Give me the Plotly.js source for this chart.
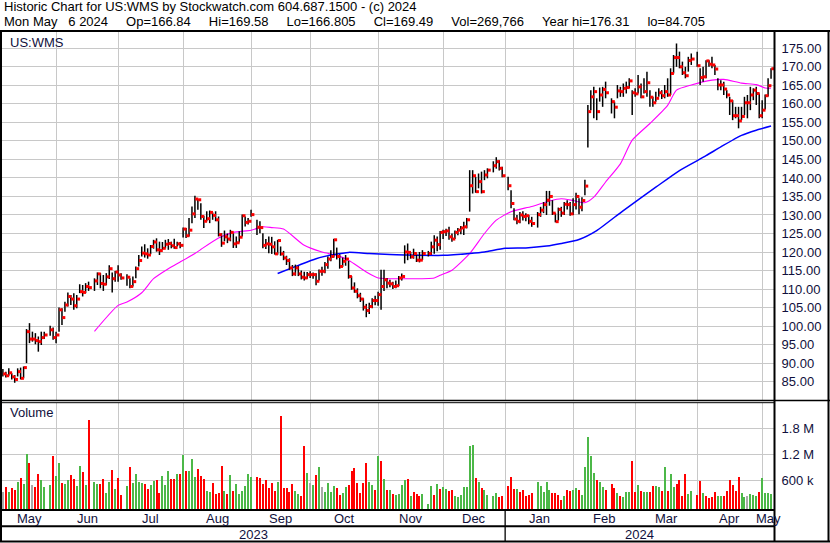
<!DOCTYPE html>
<html><head><meta charset="utf-8">
<script src="https://cdn.plot.ly/plotly-3.0.1.min.js"></script>
<style>html,body{margin:0;padding:0;background:#fff;}#chart{width:830px;height:543px;}</style>
</head><body><div id="chart"></div>
<script>
// ---- data (one entry per weekday from Mon May 8 2023 to Mon May 6 2024; null = market holiday)
const closes = [
87.1,86.6,87.4,86.3,85.6,87.7,85.9,88.8,98.5,96.5,
96.5,96.1,95.8,96.9,97.6,null,99.0,96.9,97.6,104.4,
102.3,105.7,108.0,107.3,105.5,107.3,109.3,109.1,110.7,110.4,
null,112.2,114.1,111.5,111.3,113.3,115.5,112.8,114.6,113.8,
113.0,null,113.2,110.7,112.0,115.5,117.7,119.7,119.5,119.2,
121.5,122.7,120.6,120.4,121.0,122.1,122.3,121.7,121.2,122.2,
121.8,126.2,124.4,125.9,130.3,134.3,134.1,129.6,128.3,129.0,
130.7,129.9,128.7,124.7,122.4,124.1,123.5,125.3,122.2,122.5,
124.0,129.8,128.0,128.3,130.1,null,126.7,126.6,121.8,122.2,
122.1,121.4,119.5,123.1,119.5,118.4,117.7,115.7,114.1,115.7,
114.1,113.2,113.0,113.9,113.9,113.9,112.1,114.8,114.8,116.6,
118.1,118.8,123.3,118.8,116.1,117.5,118.1,113.4,110.3,109.4,
108.2,107.3,105.1,104.2,105.3,106.9,106.9,108.5,110.7,112.5,
111.6,111.4,110.7,110.9,113.0,113.4,120.0,119.9,118.7,119.6,
117.8,117.8,119.6,null,119.6,121.4,123.2,122.0,125.3,125.5,
125.7,124.1,123.5,125.3,125.9,126.5,126.8,128.7,137.9,140.6,
136.3,139.0,136.3,140.8,142.1,null,143.3,144.4,142.6,140.6,
null,137.9,133.1,128.9,128.3,130.0,129.6,129.8,128.3,127.7,
null,130.1,131.3,132.8,134.0,135.0,130.5,128.2,131.5,130.5,
132.9,132.8,130.3,132.8,135.0,132.1,133.9,137.8,157.9,161.9,
163.3,157.9,162.4,163.9,163.0,null,160.6,159.1,163.5,163.3,
164.2,164.4,166.2,163.0,162.7,164.6,161.9,163.3,165.7,161.8,
160.3,161.5,163.0,162.2,163.3,162.4,168.2,172.5,172.5,170.0,
168.4,167.6,171.7,172.1,null,170.3,167.1,167.3,171.6,170.7,
170.5,169.4,165.1,165.1,164.0,162.4,160.8,156.8,156.8,155.4,
156.6,160.3,160.3,162.4,163.7,162.8,156.8,158.3,162.2,164.9,
169.49];
const highs = [
88.4,87.7,88.6,87.3,86.8,88.6,88.8,89.1,99.2,100.8,
98.5,98.1,97.2,98.5,98.5,null,100.1,99.6,98.5,105.0,
104.8,106.6,109.1,108.4,108.9,108.4,111.3,111.1,111.6,112.0,
null,112.9,114.5,114.3,113.8,114.3,116.4,114.5,114.9,116.4,
114.3,null,114.0,112.9,113.4,116.1,119.2,121.5,122.1,121.0,
121.9,123.3,123.7,122.8,122.7,123.3,123.5,122.8,123.6,122.8,
122.7,126.6,126.5,129.2,132.3,135.2,134.3,133.2,129.8,131.0,
131.2,130.7,131.0,129.6,125.1,125.8,125.0,126.0,125.1,124.2,
125.6,130.1,129.6,129.2,131.4,null,128.7,128.3,125.1,123.5,
124.2,124.1,122.9,123.3,121.5,120.3,119.0,118.3,116.5,116.6,
116.3,115.0,114.7,114.6,114.8,114.5,114.3,115.3,116.0,117.3,
118.8,120.5,123.6,121.2,119.4,118.5,119.2,117.6,113.5,111.8,
110.2,109.0,107.5,106.0,106.3,107.5,108.2,109.3,115.2,115.2,
113.0,112.5,112.0,112.3,113.5,114.2,121.8,122.3,120.0,120.9,
119.6,120.0,120.5,null,120.3,122.8,124.5,124.2,125.7,126.0,
126.3,126.8,125.0,125.8,126.5,127.0,128.2,129.2,142.1,142.1,
140.3,141.2,141.7,142.1,142.6,null,144.5,145.6,144.8,143.0,
null,140.3,136.7,131.8,130.0,130.8,131.0,130.5,130.0,129.5,
null,130.8,132.2,133.5,136.5,136.5,134.0,130.5,132.0,132.2,
133.5,134.0,133.5,134.5,136.0,134.5,134.8,139.5,159.7,163.7,
164.6,161.5,164.4,164.6,166.0,null,161.5,160.6,165.1,164.6,
165.5,166.0,166.9,163.7,164.2,167.8,165.5,166.9,168.7,163.7,
161.9,163.3,164.2,163.7,165.1,166.9,169.6,173.2,176.3,174.1,
171.4,170.0,172.7,173.6,null,174.1,169.6,170.0,171.8,171.8,
172.7,170.5,166.9,166.4,166.0,163.7,161.9,161.0,159.2,159.2,
159.2,161.9,162.4,164.6,164.2,164.6,162.8,161.0,162.5,166.9,
169.58];
const lows = [
86.4,86.1,86.6,85.6,84.7,86.4,85.6,85.9,90.0,95.4,
95.8,95.1,93.1,94.9,96.5,null,97.4,96.3,95.4,98.5,
100.3,103.9,105.3,105.7,104.4,104.8,108.9,108.0,108.9,109.5,
null,109.5,111.1,110.2,109.5,111.1,112.7,109.1,112.0,112.0,
112.5,null,110.9,110.2,110.7,112.9,116.1,118.8,118.5,118.2,
119.4,120.9,120.1,119.2,120.6,121.0,120.6,121.0,120.9,121.5,
121.0,123.9,123.8,124.2,127.8,129.2,131.4,128.7,126.5,128.3,
127.8,128.7,128.3,124.2,121.4,122.9,122.4,122.9,121.1,121.1,
122.6,124.2,126.9,127.4,129.5,null,124.6,125.1,121.0,120.8,
119.7,119.5,119.3,119.3,119.0,117.8,116.5,115.2,113.5,113.6,
113.5,112.6,112.3,112.8,113.0,112.8,111.0,112.3,113.6,114.3,
115.5,117.5,118.5,118.0,115.5,116.0,116.3,112.8,109.8,109.0,
107.5,106.5,104.2,102.4,103.3,104.8,105.6,105.5,104.4,109.5,
110.2,110.5,110.0,110.2,110.8,112.3,116.9,117.8,118.2,118.2,
117.3,117.2,117.8,null,118.8,119.2,119.5,120.2,120.6,123.5,
124.3,123.3,122.8,123.5,124.5,124.8,124.6,126.4,130.9,135.8,
136.0,137.2,135.8,139.4,139.9,null,141.5,142.5,142.0,140.2,
null,136.7,131.8,128.6,127.5,127.8,128.5,128.3,127.5,126.8,
null,126.6,129.5,130.5,130.0,132.5,130.0,128.0,128.5,129.5,
130.0,131.5,129.8,130.0,131.5,130.2,131.0,135.3,148.2,158.3,
156.1,155.6,160.6,159.2,161.5,null,157.4,156.1,161.5,161.9,
161.9,162.8,164.2,157.0,161.9,162.8,161.5,162.8,161.9,159.2,
159.2,160.6,161.9,161.3,161.5,161.9,162.4,168.2,170.0,169.6,
167.8,166.9,168.7,170.5,null,170.0,165.1,166.0,166.9,170.0,
169.6,167.8,163.7,163.7,162.4,161.5,157.0,155.6,156.1,153.4,
155.6,157.0,156.1,158.3,161.0,159.7,156.1,156.1,158.5,162.0,
166.805];
// volume in thousands of shares
const volumes = [
313,445,329,414,368,553,646,507,1204,995,
484,437,739,600,445,null,484,1157,693,995,
538,507,600,716,623,461,925,786,484,1994,
null,553,507,507,623,298,553,832,391,646,
252,null,461,902,530,739,553,530,507,391,
484,577,600,298,693,484,809,623,623,739,
739,1181,809,809,1088,670,855,693,623,345,
321,530,275,298,925,345,275,716,345,507,
275,345,461,739,670,null,670,646,507,600,
414,538,345,553,2087,414,414,321,507,345,
275,228,1390,763,530,484,716,902,437,321,
530,321,461,414,252,298,437,484,809,879,
530,298,530,995,553,484,368,1157,1041,623,
368,368,275,252,275,484,600,623,228,321,
275,228,275,null,43,461,252,507,391,437,
391,345,368,228,205,252,437,437,1390,1413,
646,553,414,368,252,null,228,298,205,228,
null,461,670,391,391,321,368,228,252,290,
null,553,461,321,553,368,298,298,252,135,
228,368,345,368,414,368,252,902,1599,1157,
763,600,553,437,368,null,507,414,298,228,
205,321,321,1041,321,484,345,321,321,321,
461,461,437,345,902,345,739,437,507,600,
228,739,275,345,null,252,577,298,228,182,
205,321,228,228,228,345,600,484,345,670,
298,205,228,275,252,228,321,646,298,298,
270];
// g = close up, r = close down, n = unchanged, - = holiday
const volumeChange = (
"nrgrrgrggr"+"nrrgg-grgg"+"rggrrggrgr"+"-ggrrggrgr"+"r-grggggrr"+
"ggrrgggrrg"+"rgrgggrrrg"+"grrrrgrgrg"+"ggggg-rrrr"+"rrrgrrrrrg"+
"grrgngrgng"+"gggrrggrrr"+"rrrrggrgrg"+"rgrggggrgr"+"rrg-ggrgrg"+
"grrggggggg"+"rgrgg-ggrr"+"-rrrgrrrrr"+"-gggggrrrr"+"grrggrgggg"+
"grggr-rrgr"+"gggrrgrggr"+"rggrgrggrr"+"rrgg-rrgrr"+"rrggrrrrrr"+
"ggngggrggg"+"g").split('');
// moving averages
const maShortDay = [31,39,42,47,51,56,60,65,67,73,78,84,88,91,95,102,108,113,117,123,127,136,146,148,152,158,163,167,172,179,185,189,193,197,200,204,209,213,219,225,228,233,240,244,250,255,258,260];
const maShortValue = [98.6,105.6,106.5,109.0,112.8,115.5,117.3,119.6,120.7,123.8,125.3,125.9,126.8,126.6,126.2,121.8,120.0,119.1,117.8,114.6,113.0,112.8,113.0,113.7,115.1,119.6,125.0,128.6,130.9,132.3,133.8,134.4,133.9,133.3,134.8,138.9,143.8,150.2,154.7,159.6,163.7,165.1,166.4,166.6,165.6,165.2,164.3,164.2];
const maLongDay = [93,100,106,112,117,124,131,136,149,158,163,170,177,184,189,195,201,210,221,229,238,243,250,255,260];
const maLongValue = [114.2,116.4,118.2,119.3,119.9,119.6,119.3,119.2,119.1,119.6,120.0,121.0,121.1,121.6,122.3,123.4,125.8,131.2,137.5,142.0,146.0,148.4,151.5,152.9,154.0];
// axes
const monthStartDay = [18,39,61,84,104,127,149,170,193,214,235,257];
const monthLabels = ['May','Jun','Jul','Aug','Sep','Oct','Nov','Dec','Jan','Feb','Mar','Apr','May'];
const yearLabels = ['2023','2024'];
const yearStartDay = 170;
const priceTicks = [85,90,95,100,105,110,115,120,125,130,135,140,145,150,155,160,165,170,175];
const volumeTicks = [600000,1200000,1800000];
const volumeTickText = ['600 k','1.2 M','1.8 M'];
const headerLine1 = 'Historic Chart for US:WMS by Stockwatch.com 604.687.1500 - (c) 2024';
const headerLine2 = 'Mon May   6 2024     Op=166.84     Hi=169.58     Lo=166.805     Cl=169.49     Vol=269,766     Year hi=176.31     lo=84.705';

// ---- build
const W = 830, H = 543;
const px = v => v / W, py = v => 1 - v / H;
const xMin = -0.3, xMax = 261;
const volFloor = -73; // thousands at panel bottom
const navy = '#10103c';
const FONT = 'Liberation Sans, Arial, sans-serif';
const keepSpaces = s => s.replace(/ {2,}/g, m => '\u00a0'.repeat(m.length));

const days = closes.map((_, i) => i);
const wickX = [], wickY = [], closeX = [], closeY = [];
days.forEach(i => {
  if (closes[i] === null) return;
  wickX.push(i, i, null); wickY.push(lows[i], highs[i], null);
  closeX.push(i + 0.62); closeY.push(closes[i]);
});
const colMap = {g: '#4cb848', r: '#ff0000', n: '#a9a9a9'};
const vX = [], vY = [], vC = [];
days.forEach(i => {
  if (volumes[i] === null) return;
  vX.push(i); vY.push((volumes[i] - volFloor) * 1000); vC.push(colMap[volumeChange[i]] || '#a9a9a9');
});

const traces = [
  {type: 'scatter', mode: 'lines', x: maShortDay, y: maShortValue, line: {color: '#ff00ff', width: 1.1, shape: 'spline', smoothing: 0.6}, xaxis: 'x', yaxis: 'y', hoverinfo: 'skip'},
  {type: 'scatter', mode: 'lines', x: maLongDay, y: maLongValue, line: {color: '#0000ff', width: 1.5, shape: 'spline', smoothing: 0.6}, xaxis: 'x', yaxis: 'y', hoverinfo: 'skip'},
  {type: 'scatter', mode: 'lines', x: wickX, y: wickY, line: {color: '#000', width: 1.5}, xaxis: 'x', yaxis: 'y', hoverinfo: 'skip'},
  {type: 'scatter', mode: 'markers', x: closeX, y: closeY, marker: {symbol: 'square', size: 3, color: '#ff0000', line: {width: 0}}, xaxis: 'x', yaxis: 'y', hoverinfo: 'skip'},
  {type: 'bar', x: vX, y: vY, base: volFloor * 1000, width: 0.68, marker: {color: vC, line: {width: 0}}, xaxis: 'x2', yaxis: 'y2', hoverinfo: 'skip'}
];

const bounds = [xMin].concat(monthStartDay, [xMax]);
const monthMid = monthLabels.map((_, k) => (bounds[k] + bounds[k + 1]) / 2);
const yearMid = [(xMin + yearStartDay) / 2, (yearStartDay + xMax) / 2];

const gridC = '#c8c8c8';
const tf = {family: FONT, size: 13, color: navy};
const layout = {
  width: W, height: H, margin: {l: 0, r: 0, t: 0, b: 0},
  paper_bgcolor: '#fff', plot_bgcolor: '#fff', showlegend: false,
  font: {family: FONT, size: 13, color: '#000'},
  xaxis: {domain: [px(2), px(774)], range: [xMin, xMax], anchor: 'y', tickmode: 'array', tickvals: monthStartDay,
    showticklabels: false, ticks: '', showgrid: true, gridcolor: gridC, gridwidth: 1, zeroline: false, showline: false},
  yaxis: {domain: [py(400), py(32)], range: [80.05, 179.4], anchor: 'x', side: 'right', tickmode: 'array',
    tickvals: priceTicks, ticktext: priceTicks.map(v => v.toFixed(2)), ticks: 'outside', ticklen: 4, tickcolor: 'rgba(0,0,0,0)',
    tickfont: tf, showgrid: true, gridcolor: gridC, gridwidth: 1, zeroline: false, showline: false},
  xaxis2: {domain: [px(2), px(774)], range: [xMin, xMax], anchor: 'y2', tickmode: 'array', tickvals: monthStartDay,
    showticklabels: false, ticks: '', showgrid: true, gridcolor: gridC, gridwidth: 1, zeroline: false, showline: false},
  yaxis2: {domain: [py(509), py(403)], range: [volFloor * 1000, 2387000], anchor: 'x2', side: 'right', tickmode: 'array',
    tickvals: volumeTicks, ticktext: volumeTickText, ticks: 'outside', ticklen: 4, tickcolor: 'rgba(0,0,0,0)',
    tickfont: tf, showgrid: true, gridcolor: gridC, gridwidth: 1, zeroline: false, showline: false},
  bargap: 0,
  annotations: [
    {text: keepSpaces(headerLine1), xref: 'paper', yref: 'paper', x: px(2), y: py(7), xanchor: 'left', yanchor: 'middle', showarrow: false, font: {family: FONT, size: 13, color: '#000'}},
    {text: keepSpaces(headerLine2), xref: 'paper', yref: 'paper', x: px(2), y: py(21.5), xanchor: 'left', yanchor: 'middle', showarrow: false, font: {family: FONT, size: 13, color: '#000'}},
    {text: 'US:WMS', xref: 'paper', yref: 'paper', x: px(8), y: py(42), xanchor: 'left', yanchor: 'middle', showarrow: false, font: tf},
    {text: 'Volume', xref: 'paper', yref: 'paper', x: px(8), y: py(413), xanchor: 'left', yanchor: 'middle', showarrow: false, font: tf}
  ].concat(
    monthLabels.map((t, k) => ({text: t, xref: 'x2', yref: 'paper', x: monthMid[k], y: py(518), xanchor: 'center', yanchor: 'middle', showarrow: false, font: tf})),
    yearLabels.map((t, k) => ({text: t, xref: 'x2', yref: 'paper', x: yearMid[k], y: py(534), xanchor: 'center', yanchor: 'middle', showarrow: false, font: tf}))
  ),
  shapes: [
    {type: 'line', xref: 'paper', yref: 'paper', x0: 0, x1: 1, y0: py(31), y1: py(31), line: {color: '#000', width: 2}},
    {type: 'line', xref: 'paper', yref: 'paper', x0: 0, x1: 1, y0: py(541.5), y1: py(541.5), line: {color: '#000', width: 2}},
    {type: 'line', xref: 'paper', yref: 'paper', x0: px(1), x1: px(1), y0: py(31), y1: py(541.5), line: {color: '#000', width: 2}},
    {type: 'line', xref: 'paper', yref: 'paper', x0: px(828.5), x1: px(828.5), y0: py(31), y1: py(541.5), line: {color: '#000', width: 2}},
    {type: 'line', xref: 'paper', yref: 'paper', x0: px(774.5), x1: px(774.5), y0: py(31), y1: py(541.5), line: {color: '#000', width: 2}},
    {type: 'line', xref: 'paper', yref: 'paper', x0: 0, x1: 1, y0: py(400.5), y1: py(400.5), line: {color: '#000', width: 1.5}},
    {type: 'line', xref: 'paper', yref: 'paper', x0: 0, x1: px(774), y0: py(402.7), y1: py(402.7), line: {color: '#000', width: 1}},
    {type: 'line', xref: 'paper', yref: 'paper', x0: 0, x1: px(774), y0: py(510), y1: py(510), line: {color: '#000', width: 2}},
    {type: 'line', xref: 'paper', yref: 'paper', x0: 0, x1: px(774), y0: py(526.2), y1: py(526.2), line: {color: '#000', width: 2}},
    {type: 'line', xref: 'x2', yref: 'paper', x0: yearStartDay, x1: yearStartDay, y0: py(510), y1: py(541.5), line: {color: '#000', width: 1.3}}
  ]
};
Plotly.newPlot('chart', traces, layout, {staticPlot: true, displayModeBar: false});
</script>
</body></html>
